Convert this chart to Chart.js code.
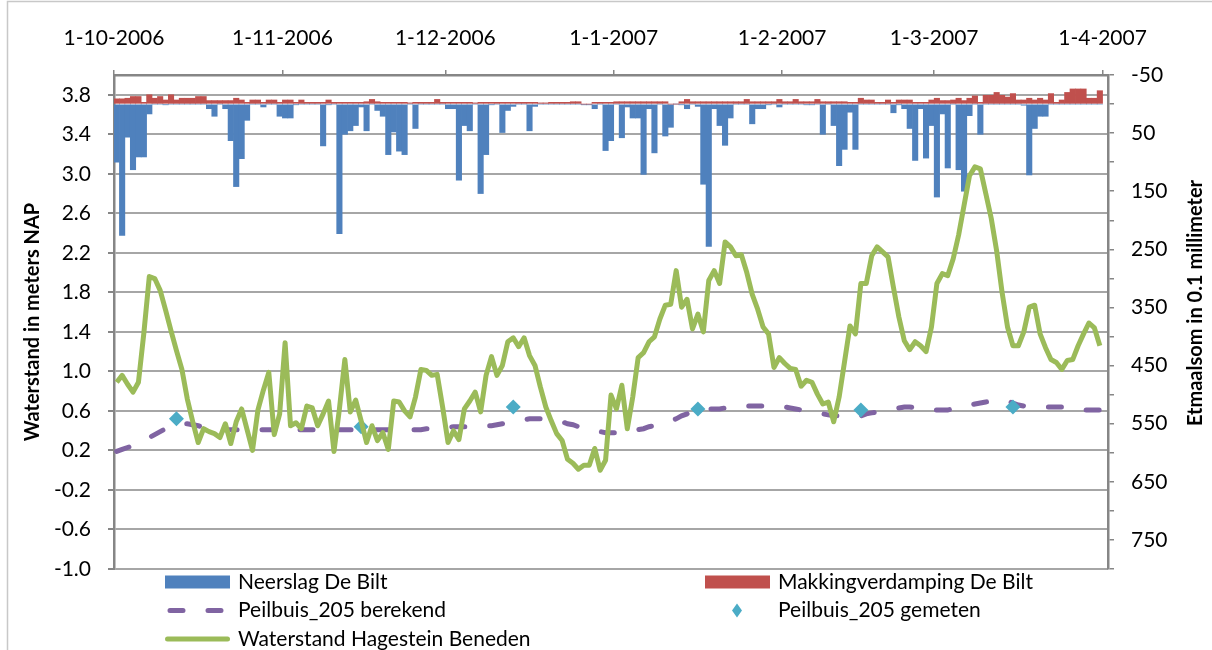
<!DOCTYPE html>
<html>
<head>
<meta charset="utf-8">
<title>Peilbuis 205</title>
<script src="https://cdn.jsdelivr.net/npm/chart.js@4.4.1/dist/chart.umd.min.js"></script>
<style>
  html, body { margin: 0; padding: 0; background: #fff; }
  canvas { display: block; }
</style>
</head>
<body>
<canvas id="peilChart" width="1212" height="650"></canvas>
<script>
// daily values from 1-10-2006 to 31-3-2007, one line per month
const startDate = new Date(2006, 9, 1);

const monthTicks = ['1-10-2006', '1-11-2006', '1-12-2006', '1-1-2007', '1-2-2007', '1-3-2007', '1-4-2007'];
const levelTicks = [-1.0, -0.6, -0.2, 0.2, 0.6, 1.0, 1.4, 1.8, 2.2, 2.6, 3.0, 3.4, 3.8];
const rainTicks = [-50, 50, 150, 250, 350, 450, 550, 650, 750];

// Neerslag De Bilt (0.1 mm)
const precipitation = [
  100, 226, 57, 113, 91, 91, 17, 0, 0, 1, 0, 0, 0, 0, 0, 0, 0, 8, 21, 0, 8, 63, 142, 94, 28, 0, 0, 5, 0, 0, 21,
  24, 24, 1, 0, 0, 0, 0, 72, 1, 0, 223, 52, 46, 37, 5, 46, 0, 11, 21, 87, 48, 81, 87, 0, 42, 0, 0, 0, 0, 0,
  8, 8, 131, 37, 46, 0, 154, 87, 1, 0, 49, 11, 4, 0, 0, 46, 4, 0, 0, 0, 0, 0, 0, 0, 0, 1, 1, 8, 0, 80, 63,
  0, 58, 5, 24, 24, 121, 8, 84, 0, 55, 40, 0, 1, 8, 0, 4, 138, 245, 8, 37, 71, 24, 0, 0, 0, 34, 8, 8, 1, 0, 5,
  0, 0, 0, 0, 1, 1, 0, 52, 0, 37, 106, 78, 14, 78, 0, 0, 0, 0, 0, 0, 15, 1, 8, 42, 97, 8, 93, 37,
  160, 17, 110, 0, 113, 150, 20, 0, 52, 0, 0, 0, 0, 0, 0, 0, 2, 122, 42, 21, 21, 0, 0, 0, 0, 0, 0, 0, 0, 0, 0
];

// Makkingverdamping De Bilt (0.1 mm, drawn upwards)
const evaporation = [
  -9, -9, -10, -13, -13, -3, -16, -10, -13, -7, -16, -7, -10, -10, -10, -13, -13, -6, -6, -6, -6, -6, -10, -7, -3, -7, -7, -3, -7, -7, -3,
  -7, -7, -3, -7, -3, -3, -3, -3, -7, -3, -3, -3, -3, -3, -3, -4, -8, -4, -3, -3, -3, -3, -3, -2, -3, -3, -3, -3, -8, -3,
  -3, -3, -3, -3, -3, -2, -3, -3, -3, -3, -3, -3, -3, -3, -3, -3, -3, -2, -2, -3, -3, -3, -3, -4, -4, 0, 0, -3, -3, -3, -3,
  -4, -4, -4, -4, -4, -4, -4, -4, -4, -4, 0, 0, -4, -8, -4, -4, -4, -4, -4, -4, -4, -4, -4, -4, -8, -4, -4, -4, -4, -4, -8,
  -4, -4, -8, -4, -4, -4, -8, -4, -4, -4, -4, -4, -3, -3, -10, -7, -7, -3, -3, -7, -3, -7, -7, -7, -3, -3, -3, -7,
  -10, -6, -6, -7, -10, -6, -10, -14, -3, -15, -15, -20, -15, -12, -18, -7, -7, -10, -7, -10, -7, -18, -3, -7, -20, -26, -26, -26, -10, -10, -23
];

// Waterstand Hagestein Beneden (m NAP)
const riverLevel = [
  0.89, 0.96, 0.87, 0.79, 0.89, 1.39, 1.96, 1.94, 1.82, 1.62, 1.41, 1.21, 1.02, 0.72, 0.49, 0.28, 0.42, 0.39, 0.37, 0.33, 0.47, 0.27, 0.49, 0.62, 0.41, 0.20, 0.61, 0.81, 0.99, 0.36, 0.57,
  1.29, 0.45, 0.48, 0.42, 0.65, 0.63, 0.45, 0.57, 0.70, 0.19, 0.62, 1.12, 0.59, 0.71, 0.50, 0.28, 0.45, 0.30, 0.38, 0.21, 0.70, 0.69, 0.60, 0.54, 0.74, 1.02, 1.01, 0.96, 0.97, 0.64,
  0.28, 0.40, 0.31, 0.62, 0.70, 0.79, 0.59, 0.96, 1.15, 0.96, 1.06, 1.30, 1.34, 1.25, 1.34, 1.16, 1.06, 0.84, 0.64, 0.50, 0.37, 0.30, 0.11, 0.07, 0.01, 0.05, 0.05, 0.22, 0.00, 0.10, 0.76,
  0.62, 0.86, 0.42, 0.74, 1.14, 1.19, 1.30, 1.35, 1.53, 1.67, 1.68, 2.02, 1.65, 1.73, 1.43, 1.58, 1.40, 1.92, 2.02, 1.89, 2.31, 2.26, 2.17, 2.18, 2.00, 1.78, 1.63, 1.45, 1.38, 1.04, 1.14,
  1.08, 1.03, 1.02, 0.85, 0.91, 0.89, 0.77, 0.67, 0.69, 0.49, 0.74, 1.10, 1.46, 1.38, 1.89, 1.89, 2.17, 2.26, 2.21, 2.16, 1.85, 1.55, 1.31, 1.22, 1.30, 1.26, 1.20, 1.45,
  1.89, 1.99, 1.97, 2.14, 2.38, 2.68, 2.98, 3.07, 3.05, 2.80, 2.55, 2.22, 1.80, 1.45, 1.26, 1.26, 1.40, 1.65, 1.67, 1.38, 1.24, 1.12, 1.09, 1.02, 1.11, 1.12, 1.26, 1.38, 1.49, 1.44, 1.26
];

// Peilbuis_205 berekend (m NAP)
const calcLevel = [
  0.19, 0.21, 0.23, 0.25, 0.27, 0.30, 0.33, 0.36, 0.39, 0.42, 0.44, 0.46, 0.47, 0.47, 0.46, 0.45, 0.43, 0.42, 0.41, 0.41, 0.41, 0.41, 0.41, 0.41, 0.41, 0.41, 0.41, 0.41, 0.41, 0.41, 0.41,
  0.41, 0.41, 0.41, 0.41, 0.41, 0.41, 0.41, 0.41, 0.41, 0.41, 0.41, 0.41, 0.41, 0.41, 0.41, 0.41, 0.41, 0.41, 0.41, 0.41, 0.41, 0.41, 0.41, 0.41, 0.41, 0.41, 0.42, 0.42, 0.42, 0.43,
  0.43, 0.44, 0.44, 0.44, 0.44, 0.44, 0.45, 0.45, 0.45, 0.46, 0.47, 0.48, 0.49, 0.50, 0.51, 0.52, 0.52, 0.52, 0.52, 0.51, 0.50, 0.49, 0.47, 0.46, 0.44, 0.43, 0.42, 0.40, 0.39, 0.38, 0.38,
  0.38, 0.38, 0.38, 0.39, 0.41, 0.42, 0.44, 0.45, 0.46, 0.48, 0.50, 0.52, 0.55, 0.57, 0.60, 0.62, 0.62, 0.62, 0.62, 0.62, 0.63, 0.63, 0.64, 0.64, 0.65, 0.65, 0.65, 0.65, 0.65, 0.65, 0.65,
  0.64, 0.63, 0.62, 0.61, 0.60, 0.59, 0.58, 0.57, 0.56, 0.55, 0.55, 0.54, 0.54, 0.54, 0.55, 0.57, 0.58, 0.59, 0.60, 0.61, 0.62, 0.63, 0.64, 0.64, 0.63, 0.62, 0.61, 0.61,
  0.61, 0.61, 0.61, 0.62, 0.63, 0.65, 0.66, 0.67, 0.68, 0.69, 0.70, 0.71, 0.71, 0.70, 0.68, 0.66, 0.65, 0.65, 0.65, 0.64, 0.64, 0.64, 0.64, 0.64, 0.63, 0.62, 0.61, 0.61, 0.61, 0.61, 0.61
];

// Peilbuis_205 gemeten (m NAP)
const measuredDates = ['12-10-2006', '15-11-2006', '13-12-2006', '16-1-2007', '15-2-2007', '15-3-2007'];
const measuredLevel = [0.52, 0.44, 0.64, 0.62, 0.61, 0.64];

const legendOrder = [
  'Neerslag De Bilt', 'Makkingverdamping De Bilt',
  'Peilbuis_205 berekend', 'Peilbuis_205 gemeten',
  'Waterstand Hagestein Beneden'
];

// days since 1-10-2006 for a d-m-yyyy string
function dayIndex(str) {
  const [d, m, y] = str.split('-').map(Number);
  return Math.round((new Date(y, m - 1, d) - startDate) / 86400000);
}
// each day sits in the middle of its slot on the date axis
const slot = i => i + 0.5;
const daily = arr => arr.map((v, i) => ({ x: slot(i), y: v }));

const axisGrey = '#868686';
const gridGrey = '#a6a6a6';

Chart.defaults.font.family = 'Lato';
Chart.defaults.font.size = 21;
Chart.defaults.color = '#000';

function drawSwatch(ctx, ds, x, y) {
  ctx.save();
  if (ds.type === 'bar') {
    ctx.fillStyle = ds.backgroundColor;
    ctx.fillRect(x, y - 6.5, 65, 13);
  } else if (ds.showLine === false) {
    ctx.fillStyle = ds.pointBackgroundColor;
    ctx.beginPath();
    ctx.moveTo(x + 32, y - 7);
    ctx.lineTo(x + 37, y);
    ctx.lineTo(x + 32, y + 7);
    ctx.lineTo(x + 27, y);
    ctx.closePath();
    ctx.fill();
  } else {
    ctx.strokeStyle = ds.borderColor;
    ctx.lineWidth = ds.borderWidth;
    ctx.lineCap = 'round';
    const dashed = ds.borderDash && ds.borderDash.length;
    ctx.setLineDash(dashed ? ds.borderDash : []);
    ctx.beginPath();
    ctx.moveTo(x + (dashed ? 5 : 2.5), y);
    ctx.lineTo(x + 62.5, y);
    ctx.stroke();
  }
  ctx.restore();
}

// frame, right axis title and the two-column legend
const decorations = {
  id: 'decorations',
  afterDraw(chart) {
    const { ctx, chartArea } = chart;
    ctx.save();
    ctx.strokeStyle = '#c8c8c8';
    ctx.lineWidth = 1.5;
    ctx.beginPath();
    ctx.moveTo(7.5, 650);
    ctx.lineTo(7.5, 1.5);
    ctx.lineTo(1212, 1.5);
    ctx.stroke();

    ctx.fillStyle = '#000';
    ctx.font = 'bold 20px Lato';
    ctx.textAlign = 'center';
    ctx.textBaseline = 'middle';
    ctx.save();
    ctx.translate(1196, 303);
    ctx.rotate(-Math.PI / 2);
    ctx.fillText('Etmaalsom in 0.1 millimeter', 0, 0);
    ctx.restore();

    ctx.font = '21px Lato';
    ctx.textAlign = 'left';
    const cols = [165, 705];
    legendOrder.forEach((label, n) => {
      const ds = chart.data.datasets.find(d => d.label === label);
      const x = cols[n % 2];
      const y = chartArea.bottom + 13 + Math.floor(n / 2) * 28.5;
      drawSwatch(ctx, ds, x, y);
      ctx.fillStyle = '#000';
      ctx.fillText(label, x + 73, y);
    });
    ctx.restore();
  }
};

const ctx = document.getElementById('peilChart').getContext('2d');
new Chart(ctx, {
  type: 'bar',
  data: {
    datasets: [
      {
        type: 'line',
        label: 'Waterstand Hagestein Beneden',
        data: daily(riverLevel),
        yAxisID: 'y',
        borderColor: '#9bbb59',
        borderWidth: 5,
        borderJoinStyle: 'round',
        pointRadius: 0,
        order: 1
      },
      {
        type: 'line',
        label: 'Peilbuis_205 gemeten',
        data: measuredDates.map((d, i) => ({ x: slot(dayIndex(d)), y: measuredLevel[i] })),
        yAxisID: 'y',
        showLine: false,
        pointStyle: 'rectRot',
        pointRadius: 7.5,
        pointBackgroundColor: '#4bacc6',
        pointBorderWidth: 0,
        order: 2
      },
      {
        type: 'line',
        label: 'Peilbuis_205 berekend',
        data: daily(calcLevel),
        yAxisID: 'y',
        borderColor: '#8064a2',
        borderWidth: 5,
        borderDash: [13, 25],
        borderCapStyle: 'round',
        pointRadius: 0,
        order: 3
      },
      {
        type: 'bar',
        label: 'Makkingverdamping De Bilt',
        data: daily(evaporation),
        yAxisID: 'y2',
        backgroundColor: '#c0504d',
        grouped: false,
        barPercentage: 1,
        categoryPercentage: 1,
        order: 4
      },
      {
        type: 'bar',
        label: 'Neerslag De Bilt',
        data: daily(precipitation),
        yAxisID: 'y2',
        backgroundColor: '#4f81bd',
        grouped: false,
        barPercentage: 1,
        categoryPercentage: 1,
        order: 5
      }
    ]
  },
  options: {
    responsive: false,
    animation: false,
    devicePixelRatio: 1,
    layout: { padding: { top: 0, right: 0, bottom: 81, left: 0 } },
    plugins: {
      legend: { display: false },
      tooltip: { enabled: false }
    },
    scales: {
      x: {
        type: 'linear',
        position: 'top',
        min: 0,
        max: 183,
        offset: false,
        afterBuildTicks: s => { s.ticks = monthTicks.map(t => ({ value: dayIndex(t) })); },
        afterFit: s => { s.height = 75; },
        ticks: {
          autoSkip: false,
          maxRotation: 0,
          padding: 19,
          callback: (v, i) => monthTicks[i]
        },
        grid: { drawOnChartArea: false, offset: false, tickLength: 5, color: axisGrey, lineWidth: 1.5 },
        border: { color: axisGrey, width: 2.5 }
      },
      y: {
        position: 'left',
        min: -1,
        max: 4,
        afterBuildTicks: s => { s.ticks = levelTicks.map(v => ({ value: v })); },
        afterFit: s => { s.width = 114; },
        ticks: { padding: 17, callback: v => v.toFixed(1) },
        grid: { color: gridGrey, lineWidth: 2, tickLength: 6, tickColor: axisGrey },
        border: { color: axisGrey, width: 2.5 },
        title: {
          display: true,
          text: 'Waterstand in meters NAP',
          font: { size: 20, weight: 'bold' },
          padding: { top: 21, bottom: 0 }
        }
      },
      y2: {
        position: 'right',
        min: -50,
        max: 800,
        reverse: true,
        afterBuildTicks: s => { s.ticks = rainTicks.flatMap(v => [v, v + 50]).map(v => ({ value: v })); },
        afterFit: s => { s.width = 104; },
        ticks: { padding: 17, callback: v => (rainTicks.includes(v) ? String(v) : '') },
        grid: { drawOnChartArea: false, tickLength: 6, color: axisGrey, lineWidth: 1.5 },
        border: { color: axisGrey, width: 2.5 }
      }
    }
  },
  plugins: [decorations]
});
</script>
</body>
</html>
